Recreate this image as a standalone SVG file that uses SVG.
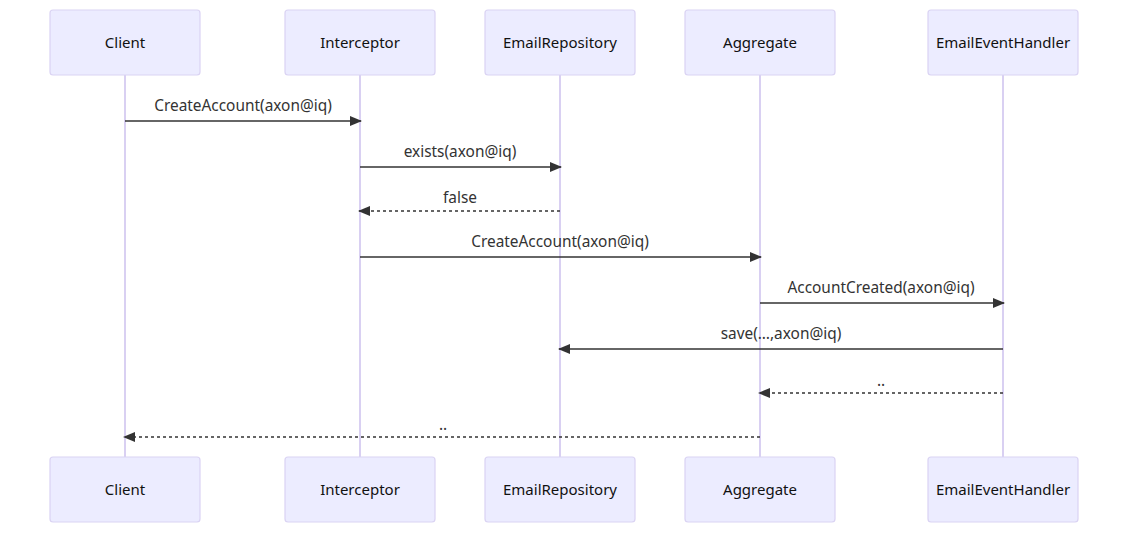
<svg xmlns="http://www.w3.org/2000/svg" width="1128" height="533" viewBox="0 0 1128 533">
<style>
.actor rect{fill:#ECECFF;stroke:#DAD3F3;stroke-width:1.2}
.actor text,.lbl{font-family:"Noto Sans","Open Sans",sans-serif;font-size:15px;fill:#333;text-anchor:middle}
.lbl{font-size:15.4px}
.actor text{fill:#111}
.life{stroke:#D9D0F2;stroke-width:2}
.msg{stroke:#333;stroke-width:1.6;fill:none}
.dash{stroke-dasharray:3,3}
</style>
<defs>
<marker id="arr" viewBox="0 0 12 10" refX="11" refY="5" markerWidth="12" markerHeight="10" markerUnits="userSpaceOnUse" orient="auto">
<path d="M0,0 L12,5 L0,10 z" fill="#333"/>
</marker>
</defs>
<rect width="1128" height="533" fill="#fff"/>
<g id="lifelines">
<line class="life" x1="125" y1="75" x2="125" y2="457"/>
<line class="life" x1="360" y1="75" x2="360" y2="457"/>
<line class="life" x1="560" y1="75" x2="560" y2="457"/>
<line class="life" x1="760" y1="75" x2="760" y2="457"/>
<line class="life" x1="1003" y1="75" x2="1003" y2="457"/>
</g>
<g id="client" class="actor">
<rect x="50" y="10" width="150" height="65" rx="3"/><text x="125" y="48">Client</text>
<rect x="50" y="457" width="150" height="65" rx="3"/><text x="125" y="495">Client</text>
</g>
<g id="interceptor" class="actor">
<rect x="285" y="10" width="150" height="65" rx="3"/><text x="360" y="48">Interceptor</text>
<rect x="285" y="457" width="150" height="65" rx="3"/><text x="360" y="495">Interceptor</text>
</g>
<g id="emailrepository" class="actor">
<rect x="485" y="10" width="150" height="65" rx="3"/><text x="560" y="48">EmailRepository</text>
<rect x="485" y="457" width="150" height="65" rx="3"/><text x="560" y="495">EmailRepository</text>
</g>
<g id="aggregate" class="actor">
<rect x="685" y="10" width="150" height="65" rx="3"/><text x="760" y="48">Aggregate</text>
<rect x="685" y="457" width="150" height="65" rx="3"/><text x="760" y="495">Aggregate</text>
</g>
<g id="emaileventhandler" class="actor">
<rect x="928" y="10" width="150" height="65" rx="3"/><text x="1003" y="48">EmailEventHandler</text>
<rect x="928" y="457" width="150" height="65" rx="3"/><text x="1003" y="495">EmailEventHandler</text>
</g>
<g id="connectors">
<line class="msg" x1="125" y1="121" x2="361" y2="121" marker-end="url(#arr)"/>
<text class="lbl" x="243" y="111">CreateAccount(axon@iq)</text>
<line class="msg" x1="360" y1="167" x2="561" y2="167" marker-end="url(#arr)"/>
<text class="lbl" x="460" y="157">exists(axon@iq)</text>
<line class="msg dash" x1="560" y1="211" x2="359" y2="211" marker-end="url(#arr)"/>
<text class="lbl" x="460" y="203">false</text>
<line class="msg" x1="360" y1="257" x2="761" y2="257" marker-end="url(#arr)"/>
<text class="lbl" x="560" y="247">CreateAccount(axon@iq)</text>
<line class="msg" x1="760" y1="303" x2="1004" y2="303" marker-end="url(#arr)"/>
<text class="lbl" x="881" y="293">AccountCreated(axon@iq)</text>
<line class="msg" x1="1003" y1="349" x2="559" y2="349" marker-end="url(#arr)"/>
<text class="lbl" x="781" y="339">save(…,axon@iq)</text>
<line class="msg dash" x1="1003" y1="393" x2="759" y2="393" marker-end="url(#arr)"/>
<text class="lbl" x="881" y="386">..</text>
<line class="msg dash" x1="760" y1="437" x2="124" y2="437" marker-end="url(#arr)"/>
<text class="lbl" x="443" y="430">..</text>
</g>
</svg>
